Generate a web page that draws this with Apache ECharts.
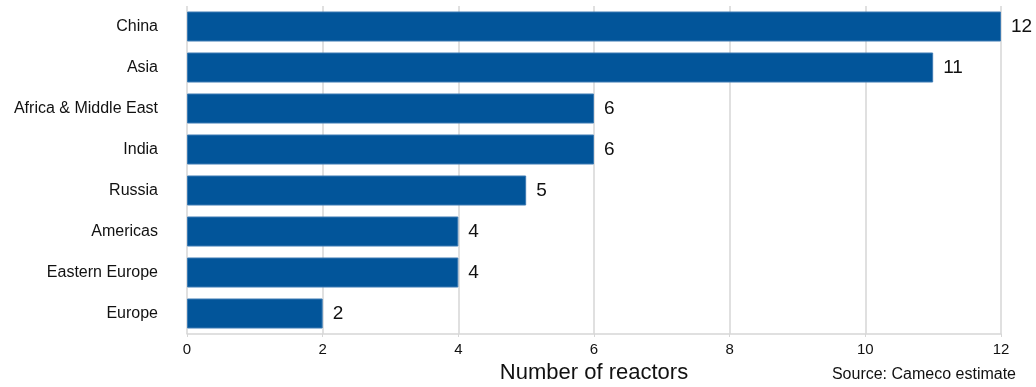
<!DOCTYPE html>
<html>
<head>
<meta charset="utf-8">
<script src="https://cdn.jsdelivr.net/npm/echarts@6/dist/echarts.min.js"></script>
<style>
  html, body { margin: 0; padding: 0; background: #fff; }
  #chart { width: 1036px; height: 387px; }
</style>
</head>
<body>
<div id="chart"></div>
<script>
// Reactors under construction by region
const regions = ['China', 'Asia', 'Africa & Middle East', 'India', 'Russia', 'Americas', 'Eastern Europe', 'Europe'];
const reactors = [12, 11, 6, 6, 5, 4, 4, 2];
const axisTitle = 'Number of reactors';
const sourceNote = 'Source: Cameco estimate';

const FONT = '"Liberation Sans", Arial, Helvetica, sans-serif';
const chart = echarts.init(document.getElementById('chart'));

chart.setOption({
  animation: false,
  textStyle: { fontFamily: FONT },
  grid: { left: 187, right: 35, top: 6, height: 328, containLabel: false, outerBoundsMode: 'none' },
  xAxis: {
    type: 'value',
    min: 0, max: 12, interval: 2,
    axisLine: { show: true, lineStyle: { color: '#d6d6d6', width: 1.5 } },
    axisTick: { show: true, length: 3, lineStyle: { color: '#d6d6d6' } },
    splitLine: { show: true, lineStyle: { color: '#d6d6d6', width: 1.5 } },
    axisLabel: { color: '#111', fontSize: 15, margin: 8, fontFamily: FONT },
    name: axisTitle,
    nameLocation: 'middle',
    nameGap: 28,
    nameMoveOverlap: false,
    nameTextStyle: { color: '#111', fontSize: 22, fontFamily: FONT }
  },
  yAxis: {
    type: 'category',
    data: regions,
    inverse: true,
    axisLine: { show: false },
    axisTick: { show: false },
    axisLabel: { color: '#111', fontSize: 16, margin: 29, fontFamily: FONT }
  },
  series: [{
    type: 'bar',
    data: reactors,
    barWidth: 30,
    itemStyle: { color: '#02559a', borderColor: '#3d7bb3', borderWidth: 1 },
    label: {
      show: true,
      position: 'right',
      distance: 10,
      color: '#111',
      fontSize: 19,
      fontFamily: FONT
    }
  }],
  graphic: [{
    type: 'text',
    right: 20,
    top: 367,
    style: { text: sourceNote, fill: '#111', font: '16px ' + FONT }
  }]
});
</script>
</body>
</html>
